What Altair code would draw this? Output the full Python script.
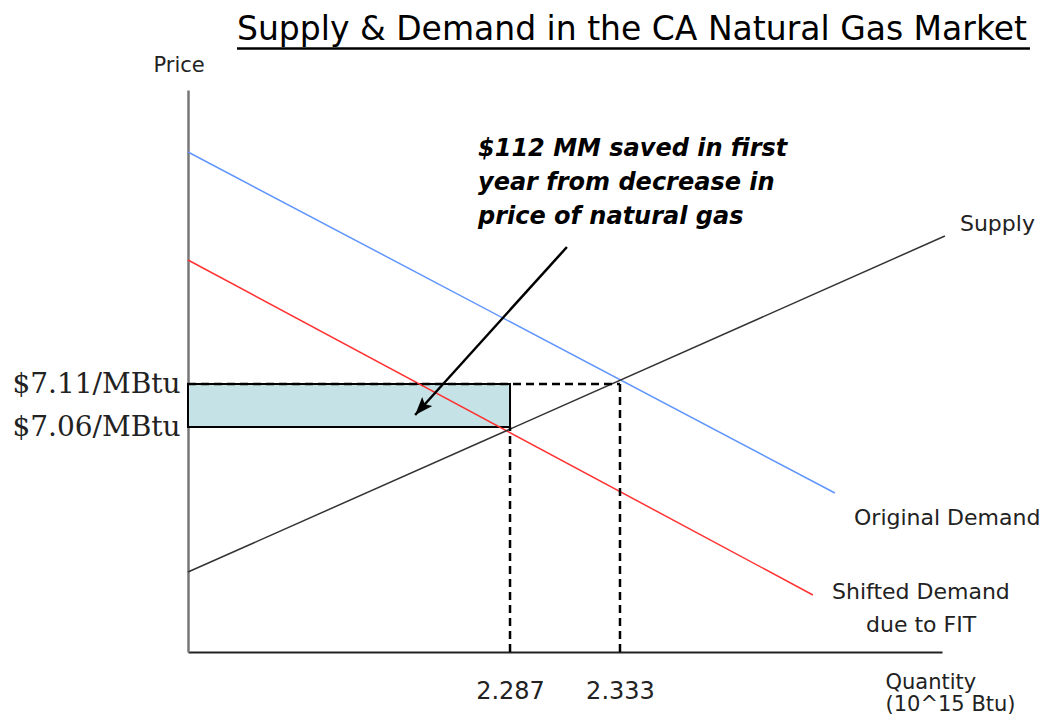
import altair as alt
import pandas as pd

# ---- axis domains (quantity in 10^15 Btu, price in $/MBtu) ----
q_domain = [2.1523, 2.4677]
p_domain = [6.7984, 7.4519]

q_ticks = [2.287, 2.333]
p_ticks = [7.06, 7.11]

# ---- curves ----
curve_names = ["Original Demand", "Shifted Demand", "Supply"]
curve_q0 = [2.1523, 2.1523, 2.1523]
curve_p0 = [7.3798, 7.2542, 6.8914]
curve_q1 = [2.4229, 2.4137, 2.4689]
curve_p1 = [6.9833, 6.8647, 7.2821]
curve_colors = ["#6196ff", "#ff3333", "#333333"]

# ---- savings rectangle ----
rect_q = [2.1523, 2.287]
rect_p = [7.06, 7.11]

# ---- dashed guide lines ----
guide_q0 = [2.1523, 2.287, 2.333]
guide_p0 = [7.11, 6.7984, 6.7984]
guide_q1 = [2.333, 2.287, 2.333]
guide_p1 = [7.11, 7.06, 7.11]

# ---- arrow (tail -> tip) ----
arrow_q = [2.3108, 2.2473]
arrow_p = [7.2693, 7.0740]

# ---- curve labels ----
label_text = ["Supply", "Original Demand", "Shifted Demand", "due to FIT"]
label_q = [2.4752, 2.4309, 2.4217, 2.4359]
label_p = [7.2879, 6.9460, 6.8600, 6.8216]

# ---- annotation ----
note_text = ["$112 MM saved in first\nyear from decrease in\nprice of natural gas"]
note_q = [2.2736]
note_p = [7.3751]

# ---- title ----
title_text = ["Supply & Demand in the CA Natural Gas Market"]
title_q = [2.1728]
title_p = [7.5100]
underline_q = [2.1728, 2.5045]
underline_p = [7.5001]

xs = alt.Scale(domain=q_domain, nice=False, zero=False)
ys = alt.Scale(domain=p_domain, nice=False, zero=False)

x_axis = alt.Axis(
    values=q_ticks, format=".3f", ticks=False, grid=False,
    domainColor="#222222", domainWidth=2,
    labelFont="DejaVu Sans", labelFontSize=24, labelColor="#222222",
    labelPadding=27, labelFlush=False, labelOverlap=False,
    titleFont="DejaVu Sans", titleFontSize=21, titleFontWeight="normal",
    titleColor="#222222", titleAlign="left", titleBaseline="alphabetic",
    titleX=697, titleY=36, titleLineHeight=22,
)
y_axis = alt.Axis(
    values=p_ticks, ticks=False, grid=False,
    labelExpr="'$' + format(datum.value, '.2f') + '/MBtu'",
    domainColor="#777777", domainWidth=2.5,
    labelFont="DejaVu Serif", labelFontSize=28, labelColor="#222222",
    labelPadding=8, labelOverlap=False, labelFlush=False,
    titleFont="DejaVu Sans", titleFontSize=21, titleFontWeight="normal",
    titleColor="#222222", titleAngle=0, titleAlign="left",
    titleBaseline="alphabetic", titleX=-35, titleY=-19,
)
x_title = ["Quantity", "(10^15 Btu)"]
y_title = "Price"


def X(field):
    return alt.X(field, type="quantitative", scale=xs, axis=x_axis, title=x_title)


def Y(field):
    return alt.Y(field, type="quantitative", scale=ys, axis=y_axis, title=y_title)


rect_df = pd.DataFrame({"q0": [rect_q[0]], "q1": [rect_q[1]], "p0": [rect_p[0]], "p1": [rect_p[1]]})
rect = alt.Chart(rect_df).mark_rect(fill="#c5e3e6", stroke="black", strokeWidth=2).encode(
    x=X("q0"), x2="q1", y=Y("p0"), y2="p1"
)

curve_df = pd.DataFrame({"name": curve_names, "q0": curve_q0, "p0": curve_p0,
                         "q1": curve_q1, "p1": curve_p1})
curves = alt.Chart(curve_df).mark_rule(strokeWidth=1.5).encode(
    x=X("q0"), x2="q1", y=Y("p0"), y2="p1",
    color=alt.Color("name:N", scale=alt.Scale(domain=curve_names, range=curve_colors), legend=None),
)

guide_df = pd.DataFrame({"q0": guide_q0, "p0": guide_p0, "q1": guide_q1, "p1": guide_p1})
guides = alt.Chart(guide_df).mark_rule(color="black", strokeWidth=2.5, strokeDash=[8, 5]).encode(
    x=X("q0"), x2="q1", y=Y("p0"), y2="p1"
)

arrow_df = pd.DataFrame({"q0": [arrow_q[0]], "p0": [arrow_p[0]], "q1": [arrow_q[1]], "p1": [arrow_p[1]]})
arrow_line = alt.Chart(arrow_df).mark_rule(color="black", strokeWidth=2.5).encode(
    x=X("q0"), x2="q1", y=Y("p0"), y2="p1"
)
arrow_head = alt.Chart(arrow_df).mark_point(
    shape="M0,0L-0.75,2L0,1.6L0.75,2Z", filled=True, fill="black", opacity=1,
    strokeWidth=0, size=330, angle=222,
).encode(x=X("q1"), y=Y("p1"))

label_df = pd.DataFrame({"text": label_text, "q": label_q, "p": label_p})
labels = alt.Chart(label_df).mark_text(
    align="left", baseline="alphabetic", font="DejaVu Sans", fontSize=22, color="#222222"
).encode(x=X("q"), y=Y("p"), text="text:N")

note_df = pd.DataFrame({"text": note_text, "q": note_q, "p": note_p})
note = alt.Chart(note_df).mark_text(
    align="left", baseline="alphabetic", font="DejaVu Sans", fontSize=24,
    fontWeight="bold", fontStyle="italic", color="black", lineBreak="\n", lineHeight=34,
).encode(x=X("q"), y=Y("p"), text="text:N")

title_df = pd.DataFrame({"text": title_text, "q": title_q, "p": title_p})
title = alt.Chart(title_df).mark_text(
    align="left", baseline="alphabetic", font="DejaVu Sans", fontSize=33, color="black"
).encode(x=X("q"), y=Y("p"), text="text:N")

ul_df = pd.DataFrame({"q0": [underline_q[0]], "q1": [underline_q[1]], "p": underline_p})
underline = alt.Chart(ul_df).mark_rule(color="black", strokeWidth=2.5).encode(
    x=X("q0"), x2="q1", y=Y("p")
)

chart = alt.layer(
    rect, curves, guides, arrow_line, arrow_head, labels, note, title, underline
).properties(
    width=754, height=562,
    padding={"left": 180, "top": 82, "right": 105, "bottom": 62},
    autosize="none", background="white",
).configure_view(stroke=None)

chart.save("out.html", embed_options={"renderer": "svg", "actions": False})
